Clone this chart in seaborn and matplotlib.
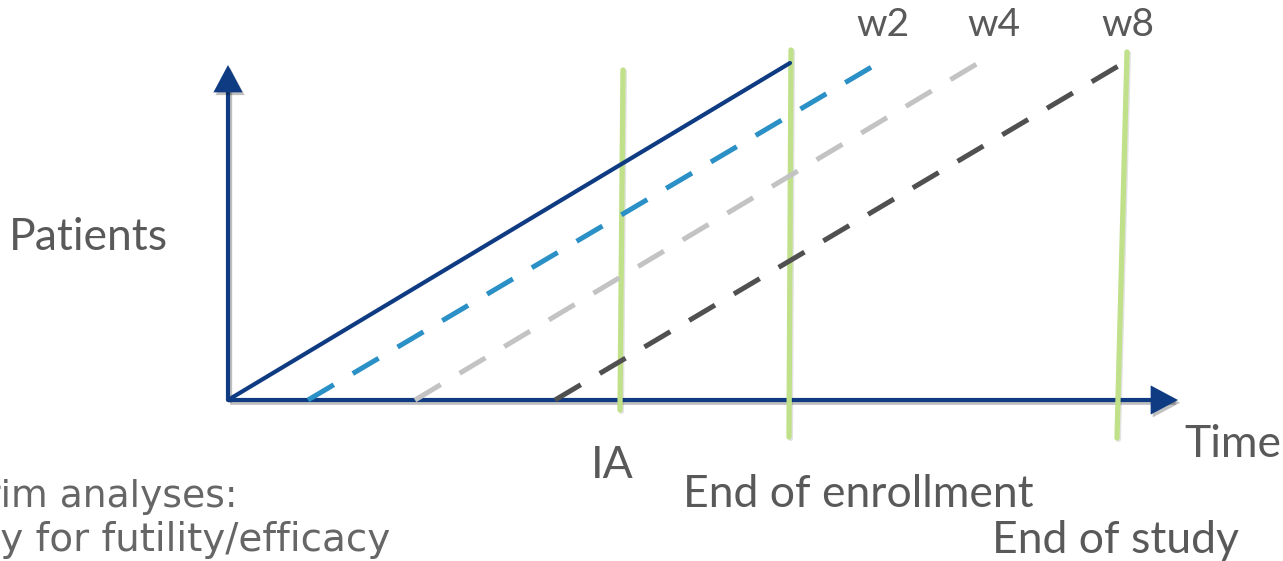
import matplotlib
matplotlib.use("Agg")
import matplotlib.pyplot as plt
import matplotlib.patheffects as pe
import seaborn as sns
import pandas as pd

sns.set_theme(style="white")
plt.rcParams["font.family"] = ["Lato", "DejaVu Sans"]

# Recruitment and follow-up timelines (time units, patient units)
enroll_t = [0.0, 56.2]
enroll_n = [0.0, 33.7]
w2_t = [8.0, 64.7]
w2_n = [0.0, 33.5]
w4_t = [18.7, 75.2]
w4_n = [0.0, 33.8]
w8_t = [32.7, 89.2]
w8_n = [0.0, 33.5]

# Milestones: label, time at bottom / top, vertical extent
milestone_names = ["IA", "End of enrollment", "End of study"]
milestone_t_bottom = [39.2, 56.1, 88.9]
milestone_t_top = [39.5, 56.3, 89.9]
milestone_lo = [-1.0, -3.7, -3.8]
milestone_hi = [33.0, 35.0, 34.8]

axis_time_end = 95.0
axis_patient_end = 33.5

NAVY = "#0E3B82"
BLUE = "#2B90C6"
LIGHT = "#C3C3C3"
DARK = "#505050"
GREEN = "#C0E08A"
TEXT = "#595959"

fig = plt.figure(figsize=(12.83, 5.61), dpi=100)
ax = fig.add_axes([0, 0, 1, 1])
ax.set_xlim(-22.8, 105.5)
ax.set_ylim(-16.1, 40.0)
ax.axis("off")

shadow = [pe.SimpleLineShadow(offset=(1.5, -2), alpha=0.25, shadow_color="black"),
          pe.Normal()]

# Axes arrows
for xy, xytext in [((0, axis_patient_end), (0, 0)), ((axis_time_end, 0), (0, 0))]:
    ann = ax.annotate("", xy=xy, xytext=xytext,
                      arrowprops=dict(arrowstyle="-|>,head_length=0.75,head_width=0.4",
                                      mutation_scale=20, lw=3.0, color=NAVY,
                                      shrinkA=0, shrinkB=0, joinstyle="miter",
                                      capstyle="butt"))
    ann.arrow_patch.set_path_effects(shadow)
    ann.set_zorder(3)

# Milestone markers
for tb, tt, lo, hi in zip(milestone_t_bottom, milestone_t_top, milestone_lo, milestone_hi):
    df = pd.DataFrame({"t": [tb, tt], "n": [lo, hi]})
    sns.lineplot(data=df, x="t", y="n", ax=ax, color=GREEN, lw=3.8,
                 sort=False, estimator=None, zorder=4,
                 path_effects=[pe.SimpleLineShadow(offset=(1, -1), alpha=0.12), pe.Normal()])

# Enrollment and follow-up lines
sns.lineplot(x=enroll_t, y=enroll_n, ax=ax, color=NAVY, lw=3.0, zorder=5,
             sort=False, estimator=None)
series = [(w2_t, w2_n, BLUE), (w4_t, w4_n, LIGHT), (w8_t, w8_n, DARK)]
for t, n, c in series:
    line = sns.lineplot(x=t, y=n, ax=ax, color=c, lw=3.6, zorder=5,
                        sort=False, estimator=None).lines[-1]
    line.set_dashes((6.0, 4.4))
    line.set_dash_capstyle("butt")

# Text labels
big = 32
ax.text(-14.0, 15.0, "Patients", fontsize=big, color=TEXT, ha="center", va="baseline")
ax.text(100.5, -5.7, "Time", fontsize=big, color=TEXT, ha="center", va="baseline")
ax.text(38.4, -7.8, milestone_names[0], fontsize=big, color=TEXT, ha="center", va="baseline")
ax.text(63.0, -10.7, milestone_names[1], fontsize=big, color=TEXT, ha="center", va="baseline")
ax.text(88.8, -15.3, milestone_names[2], fontsize=big, color=TEXT, ha="center", va="baseline")

small = 28
for label, t in [("w2", 65.5), ("w4", 76.6), ("w8", 90.0)]:
    ax.text(t, 36.4, label, fontsize=small, color=TEXT, ha="center", va="baseline")

# Notes running in from the left margin
ax.text(1.0, -10.7, "Interim analyses:", fontsize=27.2, color="#666666",
        ha="right", va="baseline", family="DejaVu Sans")
ax.text(16.2, -15.1, "Early for futility/efficacy", fontsize=28, color="#666666",
        ha="right", va="baseline", family="DejaVu Sans")

fig.savefig("out.png", dpi=100)
